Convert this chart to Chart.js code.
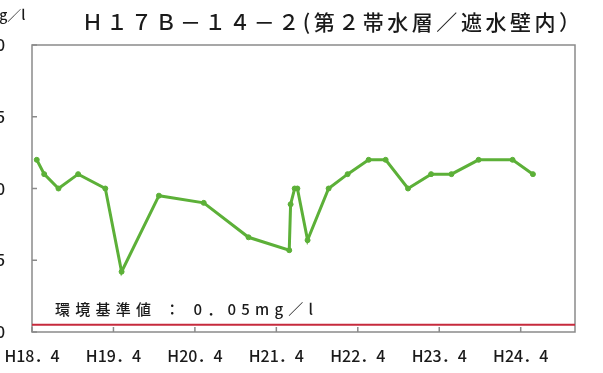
<!DOCTYPE html>
<html>
<head>
<meta charset="utf-8">
<script src="https://cdn.jsdelivr.net/npm/chart.js@4/dist/chart.umd.min.js"></script>
<style>
  html, body { margin: 0; padding: 0; background: #fff; overflow: hidden; }
  #wrap { position: absolute; left: -30px; top: 0; width: 633px; height: 373px; }
</style>
</head>
<body>
<div id="wrap"><canvas id="grafico" width="633" height="373"></canvas></div>
<script>
// months counted from H18.4
const months = [0.7, 1.8, 3.9, 6.8, 10.8, 13.2, 18.7, 25.3, 31.9, 37.9, 38.1, 38.7, 39.1, 40.6,
                43.7, 46.5, 49.6, 52.1, 55.4, 58.8, 61.8, 65.8, 70.8, 73.8];
const values = [1.2, 1.1, 1.0, 1.1, 1.0, 0.42, 0.95, 0.9, 0.66, 0.57, 0.89, 1.0, 1.0, 0.64,
                1.0, 1.1, 1.2, 1.2, 1.0, 1.1, 1.1, 1.2, 1.2, 1.1];
const tickLabels = ['H18．4', 'H19．4', 'H20．4', 'H21．4', 'H22．4', 'H23．4', 'H24．4'];
const standardValue = 0.05;
const xRange = [0, 80];
const yTicks = [0, 0.5, 1.0, 1.5, 2.0];

const titleText = 'Ｈ１７Ｂ－１４－２(第２帯水層／遮水壁内）';
const noteText = '環境基準値 ： 0．05mg／l';
const unitText = 'mg／l';
const fontFam = '"Noto Sans CJK JP", "Noto Sans", sans-serif';

function fitText(ctx, text, x, y, width) {
    ctx.letterSpacing = '0px';
    const w = ctx.measureText(text).width;
    const n = [...text].length;
    ctx.letterSpacing = ((width - w) / (n - 1)) + 'px';
    ctx.fillText(text, x, y);
    ctx.letterSpacing = '0px';
}

const frame = {
    id: 'frame',
    beforeDatasetsDraw(chart) {
        const { ctx, chartArea: a, scales } = chart;
        ctx.save();
        ctx.strokeStyle = '#8a8a8a';
        ctx.lineWidth = 1.5;
        ctx.strokeRect(a.left, a.top, a.right - a.left, a.bottom - a.top);
        ctx.beginPath();
        scales.y.ticks.forEach(t => {
            const py = scales.y.getPixelForValue(t.value);
            ctx.moveTo(a.left, py);
            ctx.lineTo(a.left + 5, py);
        });
        scales.x.ticks.forEach(t => {
            const px = scales.x.getPixelForValue(t.value);
            ctx.moveTo(px, a.bottom);
            ctx.lineTo(px, a.bottom - 5);
        });
        ctx.stroke();
        ctx.restore();
    },
    afterDraw(chart) {
        const { ctx, chartArea: a } = chart;
        ctx.save();
        ctx.fillStyle = '#1a1a1a';
        ctx.textBaseline = 'middle';
        ctx.textAlign = 'left';
        ctx.font = '500 21px ' + fontFam;
        fitText(ctx, titleText, a.left + 50, 22, 498);
        ctx.font = '500 15px ' + fontFam;
        fitText(ctx, noteText, a.left + 23, a.bottom - 23, 258);
        ctx.font = '500 14px ' + fontFam;
        ctx.fillText(unitText, a.left - 46, 15);
        ctx.restore();
    }
};

new Chart(document.getElementById('grafico'), {
    type: 'line',
    data: {
        datasets: [{
            data: months.map((m, i) => ({ x: m, y: values[i] })),
            borderColor: '#5cb038',
            backgroundColor: '#5cb038',
            borderWidth: 3,
            pointRadius: 2.5,
            pointBorderWidth: 1,
            tension: 0
        }, {
            data: xRange.map(m => ({ x: m, y: standardValue })),
            borderColor: '#c62a3c',
            borderWidth: 2,
            pointRadius: 0
        }]
    },
    plugins: [frame],
    options: {
        responsive: false,
        devicePixelRatio: 1,
        animation: false,
        layout: { padding: { top: 45, right: 28, left: 0, bottom: 0 } },
        plugins: { legend: { display: false }, tooltip: { enabled: false } },
        scales: {
            x: {
                type: 'linear',
                min: xRange[0],
                max: xRange[1],
                afterBuildTicks: s => { s.ticks = tickLabels.map((_, i) => ({ value: i * 12 })); },
                afterFit: s => { s.height = 41; },
                grid: { display: false, drawTicks: false },
                border: { display: false },
                ticks: {
                    autoSkip: false,
                    maxRotation: 0,
                    padding: 14,
                    color: '#1a1a1a',
                    font: { family: fontFam, size: 16, weight: '500' },
                    callback: v => tickLabels[v / 12]
                }
            },
            y: {
                min: 0,
                max: 2,
                afterBuildTicks: s => { s.ticks = yTicks.map(v => ({ value: v })); },
                afterFit: s => { s.width = 62; },
                grid: { display: false, drawTicks: false },
                border: { display: false },
                ticks: {
                    padding: 27,
                    color: '#1a1a1a',
                    font: { family: fontFam, size: 16, weight: '500' },
                    callback: v => v.toFixed(1)
                }
            }
        }
    }
});
</script>
</body>
</html>
